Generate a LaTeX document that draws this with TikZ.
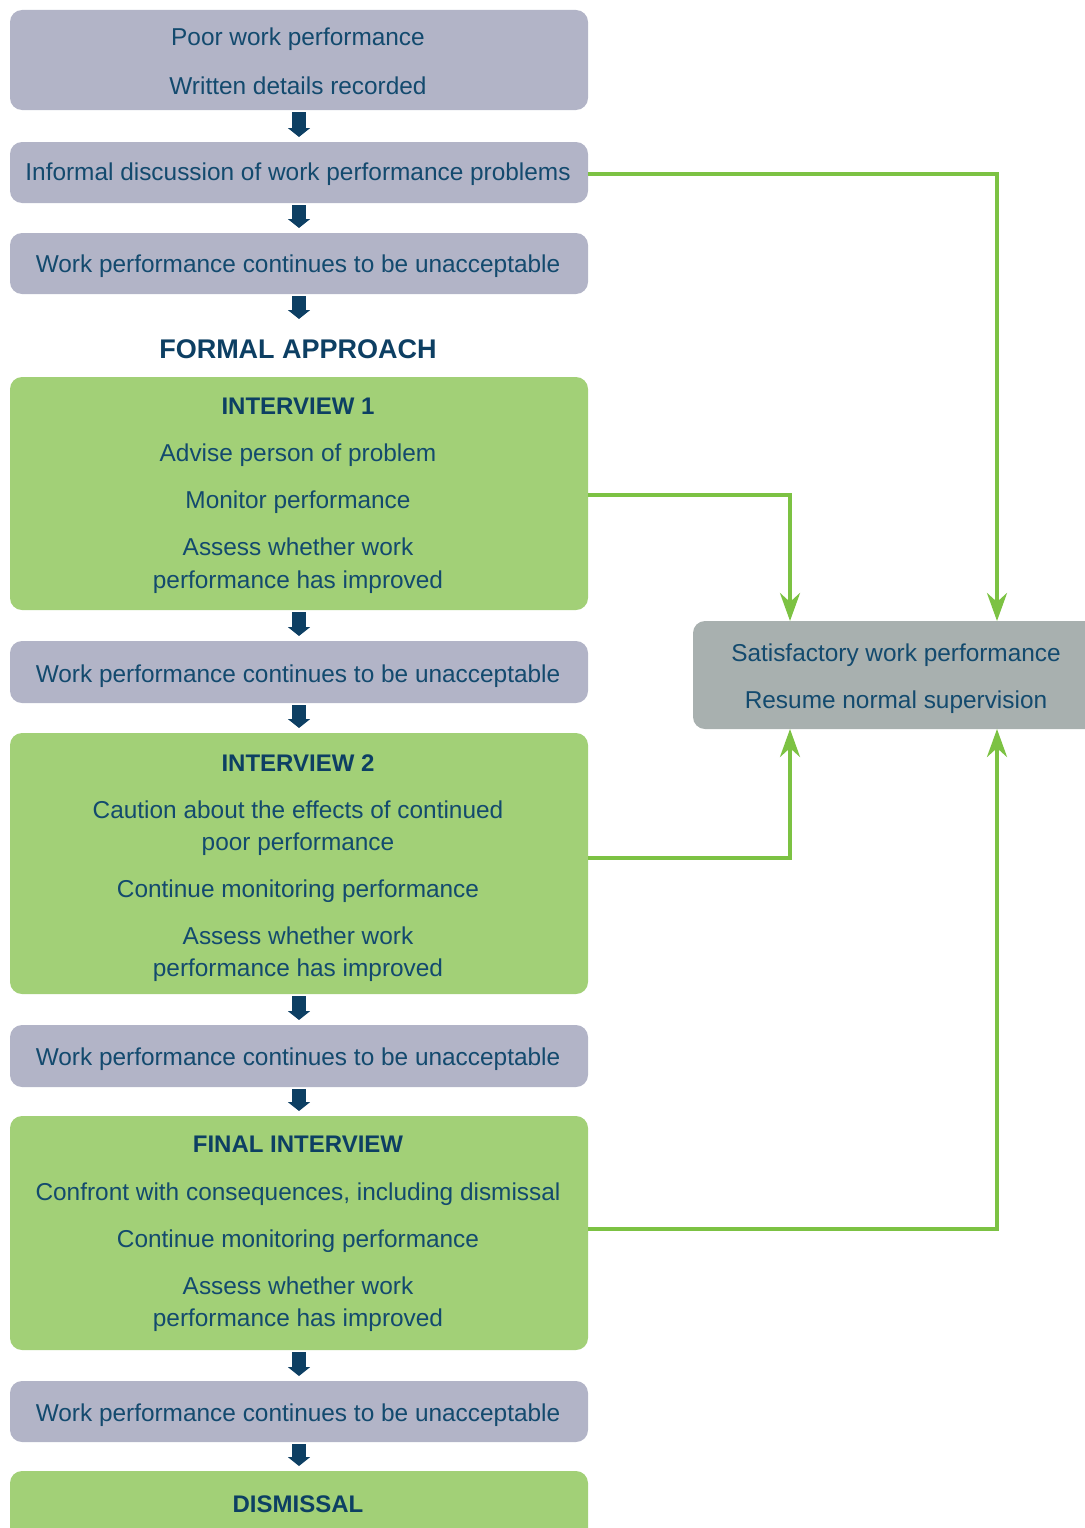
\documentclass[tikz,border=0pt]{standalone}
\usepackage{fontspec}
\setmainfont{Liberation Sans}
\usetikzlibrary{arrows.meta}
\definecolor{boxgrey}{HTML}{B2B4C7}
\definecolor{boxgreen}{HTML}{A2D077}
\definecolor{boxslate}{HTML}{A8B0AF}
\definecolor{linegreen}{HTML}{7CC243}
\definecolor{navy}{HTML}{0D3F63}
\definecolor{textblue}{HTML}{134A6E}
\begin{document}
\begin{tikzpicture}[x=1pt,y=-1pt,
  box/.style={rectangle, rounded corners=12pt, draw=none, inner sep=0, outer sep=0, minimum width=578pt},
  greybox/.style={box, fill=boxgrey},
  greenbox/.style={box, fill=boxgreen},
  txt/.style={anchor=base, inner sep=0, outer sep=0, text=textblue, font=\fontsize{24.4}{28}\selectfont},
  hd/.style={txt, text=navy, font=\fontsize{24}{28}\selectfont\bfseries},
  downarrow/.style={draw=navy, line width=14pt, -{Triangle[length=9pt,width=22pt]}, shorten <=2pt, shorten >=5pt},
  gline/.style={draw=linegreen, line width=4pt, -{Stealth[length=28pt,width=20pt,inset=9pt]}}
]
\useasboundingbox (0,0) rectangle (1084,1528);

% left column boxes
\node[greybox, minimum height=100pt] (b1) at (299,60) {};
\node[greybox, minimum height=61pt] (b2) at (299,172.5) {};
\node[greybox, minimum height=61pt] (b3) at (299,263.5) {};
\node[greenbox, minimum height=233pt] (b4) at (299,493.5) {};
\node[greybox, minimum height=62pt] (b5) at (299,672) {};
\node[greenbox, minimum height=261pt] (b6) at (299,863.5) {};
\node[greybox, minimum height=62pt] (b7) at (299,1056) {};
\node[greenbox, minimum height=234pt] (b8) at (299,1233) {};
\node[greybox, minimum height=61pt] (b9) at (299,1411.5) {};
\node[greenbox, minimum height=80pt] (b10) at (299,1511) {};

% right box
\node[box, fill=boxslate, minimum width=407pt, minimum height=108pt] (rt) at (896.5,675) {};

% texts
\node[txt] (t1a) at (298,46) {Poor work performance};
\node[txt] (t1b) at (298,94) {Written details recorded};
\node[txt] (t2) at (298,180) {Informal discussion of work performance problems};
\node[txt] (t3) at (298,272) {Work performance continues to be unacceptable};
\node[hd, font=\fontsize{27}{30}\selectfont\bfseries] (fa) at (298,358) {FORMAL APPROACH};

\node[hd] (t4a) at (298,414) {INTERVIEW 1};
\node[txt] (t4b) at (298,461) {Advise person of problem};
\node[txt] (t4c) at (298,508) {Monitor performance};
\node[txt] (t4d) at (298,555) {Assess whether work};
\node[txt] (t4e) at (298,588) {performance has improved};

\node[txt] (t5) at (298,682) {Work performance continues to be unacceptable};

\node[hd] (t6a) at (298,771) {INTERVIEW 2};
\node[txt] (t6b) at (298,818) {Caution about the effects of continued};
\node[txt] (t6c) at (298,850) {poor performance};
\node[txt] (t6d) at (298,897) {Continue monitoring performance};
\node[txt] (t6e) at (298,944) {Assess whether work};
\node[txt] (t6f) at (298,976) {performance has improved};

\node[txt] (t7) at (298,1065) {Work performance continues to be unacceptable};

\node[hd] (t8a) at (298,1152) {FINAL INTERVIEW};
\node[txt] (t8b) at (298,1200) {Confront with consequences, including dismissal};
\node[txt] (t8c) at (298,1247) {Continue monitoring performance};
\node[txt] (t8d) at (298,1294) {Assess whether work};
\node[txt] (t8e) at (298,1326) {performance has improved};

\node[txt] (t9) at (298,1421) {Work performance continues to be unacceptable};
\node[hd] (t10) at (298,1512) {DISMISSAL};

\node[txt] (rta) at (896,661) {Satisfactory work performance};
\node[txt] (rtb) at (896,708) {Resume normal supervision};

% navy down arrows
\draw[downarrow] (b1.south) -- (b2.north);
\draw[downarrow] (b2.south) -- (b3.north);
\draw[downarrow] (b3.south) -- ([yshift=-30pt]b3.south);
\draw[downarrow] (b4.south) -- (b5.north);
\draw[downarrow] (b5.south) -- (b6.north);
\draw[downarrow] (b6.south) -- (b7.north);
\draw[downarrow] (b7.south) -- (b8.north);
\draw[downarrow] (b8.south) -- (b9.north);
\draw[downarrow] (b9.south) -- (b10.north);

% green connectors
\coordinate (rtA) at (790,621);
\coordinate (rtB) at (997,621);
\coordinate (rbA) at (790,729);
\coordinate (rbB) at (997,729);
\draw[gline] ([yshift=-1.5pt]b2.east) -| (rtB);
\draw[gline] ([yshift=-1.5pt]b4.east) -| (rtA);
\draw[gline] ([yshift=5.5pt]b6.east) -| (rbA);
\draw[gline] ([yshift=4pt]b8.east) -| (rbB);
\end{tikzpicture}
\end{document}
